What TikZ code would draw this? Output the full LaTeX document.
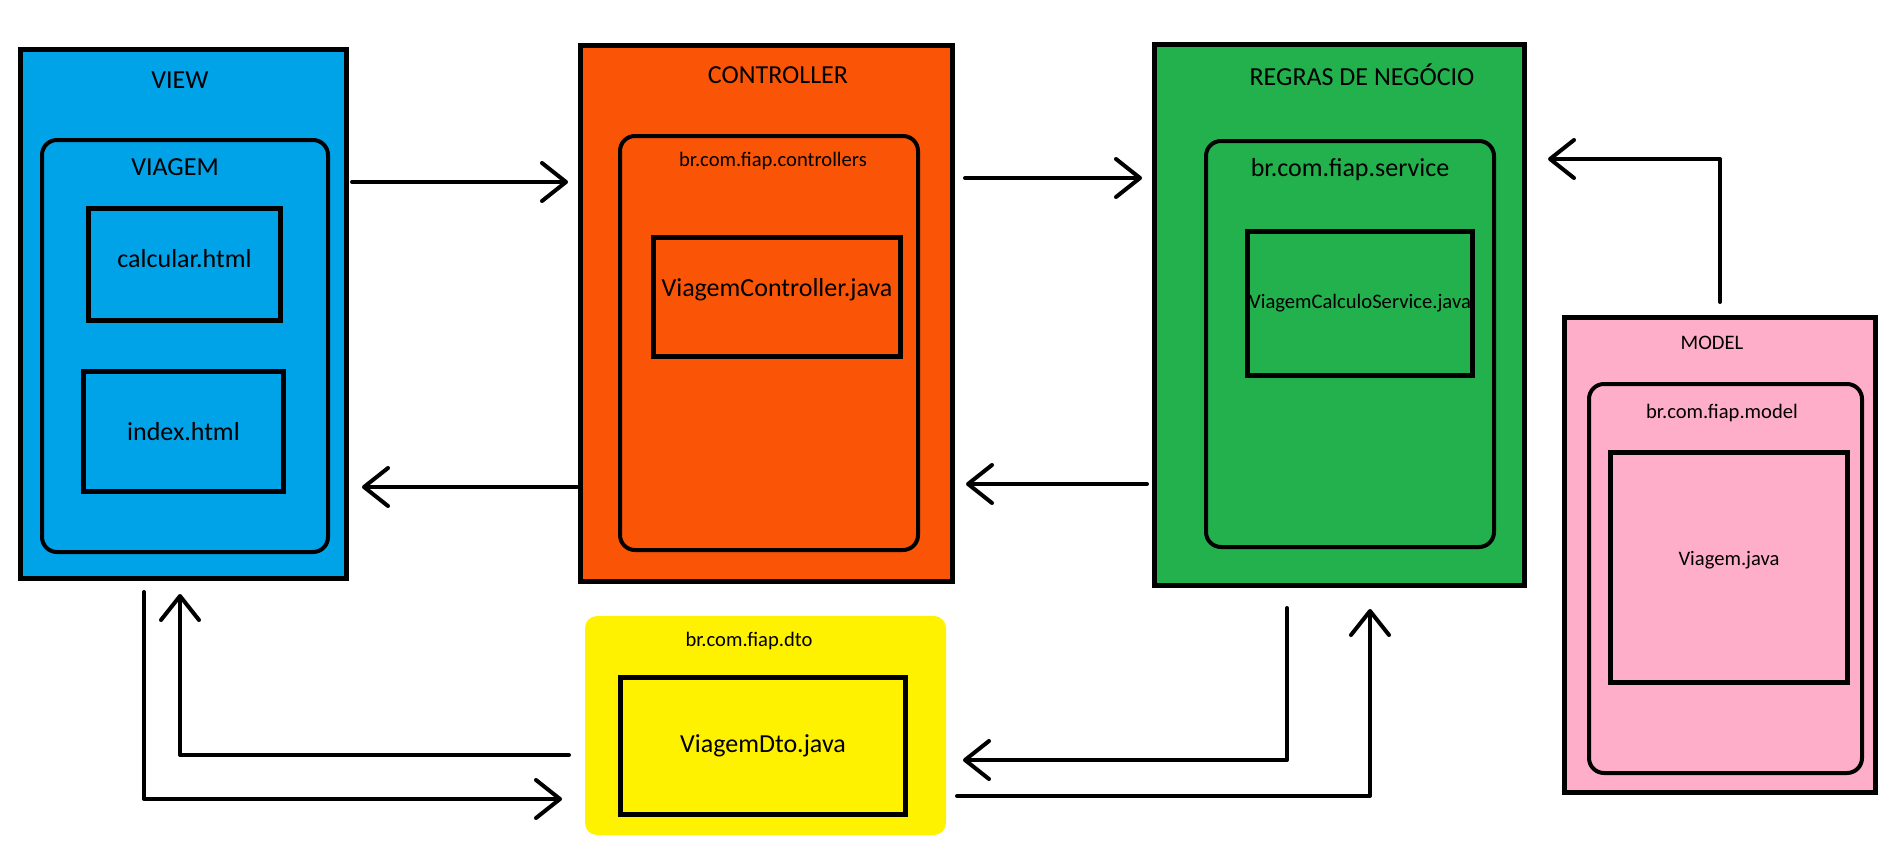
\documentclass[tikz,border=0pt]{standalone}
\usepackage{fontspec}
\setmainfont{Carlito}
\usetikzlibrary{arrows.meta}

\definecolor{viewblue}{HTML}{00A2E8}
\definecolor{ctrlorange}{HTML}{FA5507}
\definecolor{rulegreen}{HTML}{22B14C}
\definecolor{modelpink}{HTML}{FFAEC9}
\definecolor{dtoyellow}{HTML}{FFF200}

\begin{document}
\begin{tikzpicture}[
        x = 1pt, y = -1pt, % one unit per pixel, y grows downwards
        > = {Straight Barb[length=24pt, width=38pt, round]}, % open arrow head
        layer/.style = {draw = black, line width = 5pt, inner sep = 0pt},
        package/.style = {draw = black, line width = 4pt, rounded corners = 15pt,
            inner sep = 0pt},
        file/.style = {draw = black, line width = 5pt, inner sep = 0pt},
        bigtext/.style = {font = \fontsize{26}{31}\selectfont},
        smalltext/.style = {font = \fontsize{20.6}{25}\selectfont},
        arr/.style = {->, line width = 4pt, line cap = round, line join = round}
    ]

    \useasboundingbox (0,0) rectangle (1900,865);

    % layers
    \node[layer, fill = viewblue, minimum width = 326pt, minimum height = 529pt]
        (view) at (183.5,314) {};
    \node[layer, fill = ctrlorange, minimum width = 372pt, minimum height = 536pt]
        (ctrl) at (766.5,313.5) {};
    \node[layer, fill = rulegreen, minimum width = 370pt, minimum height = 541pt]
        (regras) at (1339.5,315) {};
    \node[layer, fill = modelpink, minimum width = 311pt, minimum height = 475pt]
        (model) at (1720,555) {};
    \node[fill = dtoyellow, rounded corners = 12pt, inner sep = 0pt, outer sep = 0pt,
        minimum width = 361pt, minimum height = 219pt] (dto) at (765.5,725.5) {};

    % packages
    \node[package, minimum width = 286pt, minimum height = 412pt] (viagem) at (185,346) {};
    \node[package, minimum width = 298pt, minimum height = 414pt] (ctrlpkg) at (769,343) {};
    \node[package, minimum width = 288pt, minimum height = 406pt] (servpkg) at (1350,344) {};
    \node[package, minimum width = 273pt, minimum height = 389pt] (modelpkg) at (1725.5,578.5) {};

    % files (text depth lifts the name a little above the middle)
    \node[file, bigtext, text depth = 12pt, minimum width = 192pt, minimum height = 112pt]
        (calcular) at (184.5,264.5) {calcular.html};
    \node[file, bigtext, minimum width = 200pt, minimum height = 120pt] (index)
        at (183.5,431.5) {index.html};
    \node[file, bigtext, text depth = 20pt, minimum width = 247pt, minimum height = 119pt]
        (ctrlfile) at (777,297) {ViagemController.java};
    \node[file, smalltext, minimum width = 225pt, minimum height = 144pt] (servfile)
        at (1360,303.5) {ViagemCalculoService.java};
    \node[file, smalltext, text depth = 18pt, minimum width = 237pt, minimum height = 230pt]
        (modelfile) at (1729,567.5) {Viagem.java};
    \node[file, bigtext, minimum width = 285pt, minimum height = 137pt] (dtofile)
        at (763,746) {ViagemDto.java};

    % titles
    \node[bigtext] (viewtitle) at (180,80) {VIEW};
    \node[bigtext] (viagemtitle) at (175,167) {VIAGEM};
    \node[bigtext] (ctrltitle) at (778,75) {CONTROLLER};
    \node[smalltext] (ctrlpkgtitle) at (773,161) {br.com.fiap.controllers};
    \node[bigtext] (regrastitle) at (1362,75) {REGRAS DE NEGÓCIO};
    \node[bigtext] (servpkgtitle) at (1350,170) {br.com.fiap.service};
    \node[smalltext] (modeltitle) at (1712,343) {MODEL};
    \node[smalltext] (modelpkgtitle) at (1722,413) {br.com.fiap.model};
    \node[smalltext] (dtotitle) at (749,641) {br.com.fiap.dto};

    % connectors
    \draw[arr, shorten <= 3pt, shorten >= 10pt] (view.east |- 0,182) -- (ctrl.west |- 0,182);
    \draw[arr, shorten <= 1pt, shorten >= 13pt] (ctrl.west |- 0,487) -- (view.east |- 0,487);
    \draw[arr, shorten <= 10pt, shorten >= 10pt] (ctrl.east |- 0,178) -- (regras.west |- 0,178);
    \draw[arr, shorten <= 5pt, shorten >= 11pt] (regras.west |- 0,484) -- (ctrl.east |- 0,484);
    \draw[arr, shorten <= 13pt, shorten >= 21pt] (model.north) |- (regras.east |- 0,159);
    \draw[arr, shorten <= 11pt, shorten >= 23pt] (view.south -| 144,0) |- (dto.west |- 0,799);
    \draw[arr, shorten <= 16pt, shorten >= 13pt] (dto.west |- 0,755) -| (view.south -| 180,0);
    \draw[arr, shorten <= 20pt, shorten >= 17pt] (regras.south -| 1287,0) |- (dto.east |- 0,760);
    \draw[arr, shorten <= 11pt, shorten >= 21pt] (dto.east |- 0,796) -| (regras.south -| 1370,0);

\end{tikzpicture}
\end{document}
